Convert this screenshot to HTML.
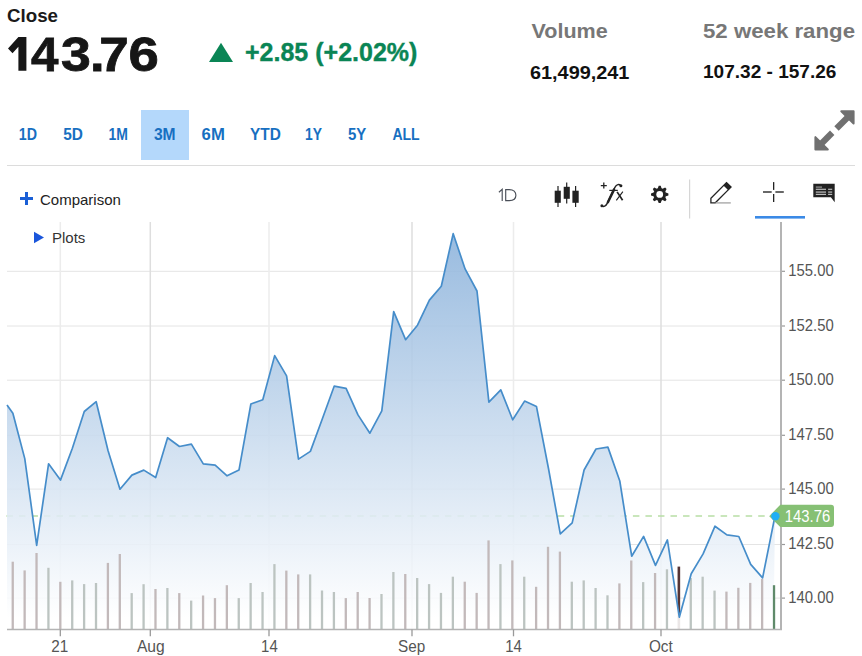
<!DOCTYPE html>
<html><head><meta charset="utf-8"><style>
html,body{margin:0;padding:0;background:#fff;width:862px;height:656px;overflow:hidden;position:relative;font-family:"Liberation Sans",sans-serif}
.t{position:absolute;white-space:nowrap;line-height:1}
.b{font-weight:bold}
.tab{position:absolute;top:127px;font-weight:bold;font-size:15.5px;color:#176fc1;line-height:1}
</style></head><body>
<svg width="862" height="656" style="position:absolute;left:0;top:0">
<g font-family="Liberation Sans" font-weight="bold">
<text x="7" y="22" font-size="18" fill="#1a1a1a" textLength="51" lengthAdjust="spacingAndGlyphs">Close</text>
<text x="245" y="61.4" font-size="26" fill="#0a8555" stroke="#0a8555" stroke-width="0.4" textLength="172.4" lengthAdjust="spacingAndGlyphs">+2.85 (+2.02%)</text>
<text x="531.5" y="37.8" font-size="21" fill="#777" textLength="76.2" lengthAdjust="spacingAndGlyphs">Volume</text>
<text x="530" y="78.9" font-size="18" fill="#111" textLength="99.4" lengthAdjust="spacingAndGlyphs">61,499,241</text>
<text x="703" y="37.5" font-size="21" fill="#777" textLength="152" lengthAdjust="spacingAndGlyphs">52 week range</text>
<text x="703" y="78.4" font-size="18" fill="#111" textLength="133.4" lengthAdjust="spacingAndGlyphs">107.32 - 157.26</text>
</g></svg>
<svg width="862" height="656" style="position:absolute;left:0;top:0">
<polygon points="18.4,37 26.4,37 26.4,70.7 18.4,70.7 18.4,46.8 12.5,53.3 8,48.4" fill="#161616"/>
<g font-family="Liberation Sans" font-weight="bold" font-size="49" fill="#161616" stroke="#161616" stroke-width="0.8">
<text x="31.1" y="70.6" textLength="27.45" lengthAdjust="spacingAndGlyphs">4</text>
<text x="61.0" y="70.6" textLength="29.86" lengthAdjust="spacingAndGlyphs">3</text>
<text x="89.9" y="70.6" textLength="14.65" lengthAdjust="spacingAndGlyphs">.</text>
<text x="99.2" y="70.6" textLength="29.51" lengthAdjust="spacingAndGlyphs">7</text>
<text x="128.5" y="70.6" textLength="30.32" lengthAdjust="spacingAndGlyphs">6</text>
</g></svg>
<svg width="862" height="656" style="position:absolute;left:0;top:0">
<polygon points="209,62 221,42.7 233,62" fill="#0a8555"/>
</svg>
<div style="position:absolute;left:141px;top:110px;width:48px;height:50px;background:#b4d8fb"></div>
<svg width="862" height="656" style="position:absolute;left:0;top:0">
<text x="18.8" y="140.3" font-family="Liberation Sans" font-weight="bold" font-size="16.5" fill="#176fc1" textLength="18.2" lengthAdjust="spacingAndGlyphs">1D</text>
<text x="63.3" y="140.3" font-family="Liberation Sans" font-weight="bold" font-size="16.5" fill="#176fc1" textLength="19.7" lengthAdjust="spacingAndGlyphs">5D</text>
<text x="108.4" y="140.3" font-family="Liberation Sans" font-weight="bold" font-size="16.5" fill="#176fc1" textLength="19.4" lengthAdjust="spacingAndGlyphs">1M</text>
<text x="153.9" y="140.3" font-family="Liberation Sans" font-weight="bold" font-size="16.5" fill="#176fc1" textLength="21.7" lengthAdjust="spacingAndGlyphs">3M</text>
<text x="201.6" y="140.3" font-family="Liberation Sans" font-weight="bold" font-size="16.5" fill="#176fc1" textLength="23.2" lengthAdjust="spacingAndGlyphs">6M</text>
<text x="250.0" y="140.3" font-family="Liberation Sans" font-weight="bold" font-size="16.5" fill="#176fc1" textLength="30.8" lengthAdjust="spacingAndGlyphs">YTD</text>
<text x="305.0" y="140.3" font-family="Liberation Sans" font-weight="bold" font-size="16.5" fill="#176fc1" textLength="17.0" lengthAdjust="spacingAndGlyphs">1Y</text>
<text x="348.0" y="140.3" font-family="Liberation Sans" font-weight="bold" font-size="16.5" fill="#176fc1" textLength="18.3" lengthAdjust="spacingAndGlyphs">5Y</text>
<text x="392.4" y="140.3" font-family="Liberation Sans" font-weight="bold" font-size="16.5" fill="#176fc1" textLength="27.3" lengthAdjust="spacingAndGlyphs">ALL</text>
</svg>
<div style="position:absolute;left:7px;top:165px;width:848px;height:1px;background:#dcdcdc"></div>
<svg width="862" height="656" style="position:absolute;left:0;top:0">
<!-- expand icon -->
<g fill="#707070" stroke="#707070" stroke-width="2" stroke-linejoin="round">
<polygon points="841.3,111.3 853.6,111.3 853.6,123.6"/>
<polygon points="815.4,137.1 815.4,149.5 827.8,149.5"/>
</g>
<line x1="849.5" y1="115.5" x2="836.5" y2="128.5" stroke="#707070" stroke-width="6.2"/>
<line x1="832.2" y1="132.8" x2="820" y2="145" stroke="#707070" stroke-width="6.2"/>
<!-- plus -->
<rect x="20" y="197" width="13" height="3" fill="#1a5fd6"/>
<rect x="25" y="192" width="3" height="13" fill="#1a5fd6"/>
<!-- candles -->
<g fill="#222">
<rect x="557.4" y="186" width="1.2" height="21"/><rect x="554.7" y="190.7" width="6.1" height="12.1"/>
<rect x="566.1" y="182.5" width="1.2" height="21"/><rect x="563.7" y="186.8" width="6.1" height="12"/>
<rect x="575" y="186" width="1.2" height="21"/><rect x="572.4" y="190.7" width="6.3" height="12.1"/>
</g>
<!-- gear -->
<circle cx="659.7" cy="194.4" r="6.3" fill="#222"/>
<polygon points="657.60,188.90 658.70,185.70 660.70,185.70 661.80,188.90" fill="#222"/>
<polygon points="662.10,189.03 665.14,187.54 666.56,188.96 665.07,192.00" fill="#222"/>
<polygon points="665.20,192.30 668.40,193.40 668.40,195.40 665.20,196.50" fill="#222"/>
<polygon points="665.07,196.80 666.56,199.84 665.14,201.26 662.10,199.77" fill="#222"/>
<polygon points="661.80,199.90 660.70,203.10 658.70,203.10 657.60,199.90" fill="#222"/>
<polygon points="657.30,199.77 654.26,201.26 652.84,199.84 654.33,196.80" fill="#222"/>
<polygon points="654.20,196.50 651.00,195.40 651.00,193.40 654.20,192.30" fill="#222"/>
<polygon points="654.33,192.00 652.84,188.96 654.26,187.54 657.30,189.03" fill="#222"/>
<circle cx="659.7" cy="194.4" r="3.4" fill="#fff"/>
<!-- separator -->
<rect x="689" y="179.5" width="1.2" height="39" fill="#d6d6d6"/>
<!-- pencil -->
<path d="M710.9,202.8 L710.9,198.3 L726.5,182.6 L731,187.1 L715.3,202.8 Z" fill="none" stroke="#222" stroke-width="1.3" stroke-linejoin="miter"/>
<path d="M723.4,185.4 L726.5,182.3 L731.4,187.1 L728.3,190.2 Z" fill="#222"/>
<rect x="715.5" y="202.2" width="15.3" height="1.4" fill="#aaa"/>
<!-- crosshair -->
<g fill="#222">
<rect x="763" y="191.2" width="8.7" height="1.6" fill="#444"/><rect x="775.4" y="191.2" width="8.4" height="1.6" fill="#444"/>
<rect x="773" y="182.1" width="1.3" height="7.8"/><rect x="773" y="194" width="1.3" height="8"/>
</g>
<rect x="755" y="216" width="50" height="2.6" fill="#3b8ae6"/>
<!-- comment icon -->
<path d="M813.3,183.7 L834.7,183.7 L834.7,202.2 L830.9,197.2 L813.3,197.2 Z" fill="#222"/>
<g fill="#bbb">
<rect x="815.8" y="186.4" width="6.2" height="1.4" fill="#888"/>
<rect x="815.8" y="188.7" width="10.2" height="1.2"/><rect x="828.1" y="188.7" width="4.1" height="1.2"/>
<rect x="815.8" y="191.3" width="10.2" height="1.6" fill="#999"/><rect x="828.1" y="191.3" width="4.1" height="1.6" fill="#999"/>
<rect x="815.8" y="193.8" width="10.2" height="1.2"/><rect x="828.1" y="193.8" width="4.1" height="1.2"/>
</g>
</svg>
<div class="t" style="left:40px;top:192px;font-size:15px;color:#222">Comparison</div>
<svg width="862" height="656" style="position:absolute;left:0;top:0">
<g fill="none" stroke="#4a4f58" stroke-width="1.15">
<path d="M502.2,201 L502.2,189.3 L498.9,192.2"/>
<path d="M505.7,189.6 L509.3,189.6 C513.6,189.6 515.9,192.2 515.9,195.3 C515.9,198.4 513.6,200.6 509.3,200.6 L505.7,200.6 Z"/>
</g></svg>
<svg width="862" height="656" style="position:absolute;left:0;top:0">
<g stroke="#222" fill="none" stroke-linecap="round">
<path d="M600.8,185.6 L606.8,185.6 M603.8,182.6 L603.8,188.6" stroke-width="1.3" stroke-linecap="butt"/>
<path d="M620.7,185.6 C619.2,183.9 616.6,184.1 614.9,187.4 L607.2,203.4 C605.9,206 603.6,207.4 601.8,205.8" stroke-width="1.4"/>
<path d="M614,189.6 L607.9,202.2" stroke-width="2.5"/>
<path d="M609.3,190.4 L617.8,190.4" stroke-width="1.2" stroke-linecap="butt"/>
<path d="M617.1,191.9 L622.6,200.2" stroke-width="1.7" stroke-linecap="butt"/>
<path d="M622.9,191.7 L616.3,200.3" stroke-width="1.1" stroke-linecap="butt"/>
</g>
<circle cx="620.9" cy="185.7" r="1.5" fill="#222"/>
<circle cx="601.9" cy="205.8" r="1.5" fill="#222"/>
</svg>
<svg width="862" height="656" style="position:absolute;left:0;top:0">
<defs><linearGradient id="fg" x1="0" y1="233" x2="0" y2="618" gradientUnits="userSpaceOnUse"><stop offset="0" stop-color="rgb(139,178,219)" stop-opacity="0.88"/><stop offset="1" stop-color="#ffffff" stop-opacity="0.88"/></linearGradient></defs>
<line x1="7" y1="271.3" x2="780" y2="271.3" stroke="#e4e4e4" stroke-width="1"/>
<line x1="7" y1="326.0" x2="780" y2="326.0" stroke="#e4e4e4" stroke-width="1"/>
<line x1="7" y1="380.2" x2="780" y2="380.2" stroke="#e4e4e4" stroke-width="1"/>
<line x1="7" y1="435.3" x2="780" y2="435.3" stroke="#e4e4e4" stroke-width="1"/>
<line x1="7" y1="489.1" x2="780" y2="489.1" stroke="#e4e4e4" stroke-width="1"/>
<line x1="7" y1="544.5" x2="780" y2="544.5" stroke="#e4e4e4" stroke-width="1"/>
<line x1="7" y1="598.1" x2="780" y2="598.1" stroke="#e4e4e4" stroke-width="1"/>
<line x1="60.3" y1="222" x2="60.3" y2="629.5" stroke="#ececec" stroke-width="1.5"/>
<line x1="150.3" y1="222" x2="150.3" y2="629.5" stroke="#dedede" stroke-width="1.5"/>
<line x1="269.0" y1="222" x2="269.0" y2="629.5" stroke="#ececec" stroke-width="1.5"/>
<line x1="412.0" y1="222" x2="412.0" y2="629.5" stroke="#dedede" stroke-width="1.5"/>
<line x1="513.5" y1="222" x2="513.5" y2="629.5" stroke="#ececec" stroke-width="1.5"/>
<line x1="661.0" y1="222" x2="661.0" y2="629.5" stroke="#dedede" stroke-width="1.5"/>
<line x1="6.4" y1="516" x2="770" y2="516" stroke="#b8dea5" stroke-width="1.7" stroke-dasharray="6.5,6.03"/>
<rect x="677.56" y="566.6" width="2.6" height="62.9" fill="#553434"/>
<path d="M7.00,405.00 L12.87,413.30 L24.77,458.60 L36.67,545.40 L48.57,463.80 L60.47,480.10 L72.38,448.30 L84.28,411.50 L96.18,401.70 L108.08,450.80 L119.98,489.20 L131.88,475.10 L143.78,470.10 L155.68,477.50 L167.58,437.70 L179.48,446.50 L191.38,444.10 L203.28,463.90 L215.18,465.20 L227.08,475.80 L238.98,470.10 L250.88,404.00 L262.78,399.80 L274.68,355.60 L286.58,375.90 L298.48,459.10 L310.38,451.40 L322.28,419.00 L334.18,386.20 L346.08,388.30 L357.98,414.90 L369.88,433.20 L381.79,410.90 L393.69,311.60 L405.59,339.70 L417.49,325.20 L429.39,300.10 L441.29,286.20 L453.19,233.70 L465.09,268.90 L476.99,291.00 L488.89,402.10 L500.79,389.90 L512.69,419.80 L524.59,401.10 L536.49,406.60 L548.39,468.00 L560.29,533.90 L572.19,522.90 L584.09,470.00 L595.99,449.00 L607.89,447.10 L619.79,481.00 L631.69,556.20 L643.59,536.40 L655.49,565.40 L667.39,539.90 L679.30,617.20 L691.20,573.80 L703.10,553.90 L715.00,526.20 L726.90,534.90 L738.80,536.50 L750.70,564.40 L762.60,577.90 L775.00,515.90 L773.50,629.5 L7,629.5 Z" fill="url(#fg)"/>
<rect x="11.59" y="561.7" width="2.3" height="67.8" fill="#c2b9ba"/>
<rect x="23.49" y="570.4" width="2.3" height="59.1" fill="#c2b9ba"/>
<rect x="35.38" y="553.0" width="2.3" height="76.5" fill="#c2b9ba"/>
<rect x="47.28" y="567.8" width="2.3" height="61.7" fill="#bcc4c1"/>
<rect x="59.17" y="581.8" width="2.3" height="47.7" fill="#c2b9ba"/>
<rect x="71.07" y="580.4" width="2.3" height="49.1" fill="#bcc4c1"/>
<rect x="82.96" y="584.1" width="2.3" height="45.4" fill="#bcc4c1"/>
<rect x="94.86" y="583.0" width="2.3" height="46.5" fill="#bcc4c1"/>
<rect x="106.75" y="562.9" width="2.3" height="66.6" fill="#c2b9ba"/>
<rect x="118.65" y="554.0" width="2.3" height="75.5" fill="#c2b9ba"/>
<rect x="130.54" y="593.1" width="2.3" height="36.4" fill="#bcc4c1"/>
<rect x="142.44" y="584.2" width="2.3" height="45.3" fill="#bcc4c1"/>
<rect x="154.33" y="589.0" width="2.3" height="40.5" fill="#c2b9ba"/>
<rect x="166.23" y="588.0" width="2.3" height="41.5" fill="#bcc4c1"/>
<rect x="178.12" y="593.1" width="2.3" height="36.4" fill="#c2b9ba"/>
<rect x="190.02" y="600.6" width="2.3" height="28.9" fill="#bcc4c1"/>
<rect x="201.91" y="595.5" width="2.3" height="34.0" fill="#c2b9ba"/>
<rect x="213.81" y="598.1" width="2.3" height="31.4" fill="#c2b9ba"/>
<rect x="225.70" y="585.2" width="2.3" height="44.3" fill="#c2b9ba"/>
<rect x="237.60" y="598.1" width="2.3" height="31.4" fill="#bcc4c1"/>
<rect x="249.49" y="583.0" width="2.3" height="46.5" fill="#bcc4c1"/>
<rect x="261.39" y="592.0" width="2.3" height="37.5" fill="#bcc4c1"/>
<rect x="273.28" y="564.1" width="2.3" height="65.4" fill="#bcc4c1"/>
<rect x="285.18" y="570.6" width="2.3" height="58.9" fill="#c2b9ba"/>
<rect x="297.07" y="574.4" width="2.3" height="55.1" fill="#c2b9ba"/>
<rect x="308.97" y="574.4" width="2.3" height="55.1" fill="#bcc4c1"/>
<rect x="320.86" y="590.5" width="2.3" height="39.0" fill="#bcc4c1"/>
<rect x="332.76" y="592.0" width="2.3" height="37.5" fill="#bcc4c1"/>
<rect x="344.65" y="598.1" width="2.3" height="31.4" fill="#c2b9ba"/>
<rect x="356.55" y="592.0" width="2.3" height="37.5" fill="#c2b9ba"/>
<rect x="368.44" y="598.0" width="2.3" height="31.5" fill="#c2b9ba"/>
<rect x="380.34" y="594.0" width="2.3" height="35.5" fill="#bcc4c1"/>
<rect x="392.23" y="572.0" width="2.3" height="57.5" fill="#bcc4c1"/>
<rect x="404.13" y="574.0" width="2.3" height="55.5" fill="#c2b9ba"/>
<rect x="416.02" y="578.0" width="2.3" height="51.5" fill="#bcc4c1"/>
<rect x="427.92" y="584.1" width="2.3" height="45.4" fill="#bcc4c1"/>
<rect x="439.81" y="592.9" width="2.3" height="36.6" fill="#bcc4c1"/>
<rect x="451.71" y="576.7" width="2.3" height="52.8" fill="#bcc4c1"/>
<rect x="463.60" y="581.7" width="2.3" height="47.8" fill="#c2b9ba"/>
<rect x="475.50" y="592.9" width="2.3" height="36.6" fill="#c2b9ba"/>
<rect x="487.39" y="540.4" width="2.3" height="89.1" fill="#c2b9ba"/>
<rect x="499.29" y="564.1" width="2.3" height="65.4" fill="#bcc4c1"/>
<rect x="511.18" y="560.4" width="2.3" height="69.1" fill="#c2b9ba"/>
<rect x="523.08" y="576.7" width="2.3" height="52.8" fill="#bcc4c1"/>
<rect x="534.97" y="586.8" width="2.3" height="42.7" fill="#c2b9ba"/>
<rect x="546.87" y="546.8" width="2.3" height="82.7" fill="#c2b9ba"/>
<rect x="558.76" y="551.6" width="2.3" height="77.9" fill="#c2b9ba"/>
<rect x="570.66" y="581.7" width="2.3" height="47.8" fill="#bcc4c1"/>
<rect x="582.55" y="580.4" width="2.3" height="49.1" fill="#bcc4c1"/>
<rect x="594.45" y="588.0" width="2.3" height="41.5" fill="#bcc4c1"/>
<rect x="606.34" y="595.3" width="2.3" height="34.2" fill="#bcc4c1"/>
<rect x="618.24" y="583.4" width="2.3" height="46.1" fill="#c2b9ba"/>
<rect x="630.13" y="560.5" width="2.3" height="69.0" fill="#c2b9ba"/>
<rect x="642.03" y="582.1" width="2.3" height="47.4" fill="#bcc4c1"/>
<rect x="653.92" y="573.0" width="2.3" height="56.5" fill="#c2b9ba"/>
<rect x="665.82" y="569.3" width="2.3" height="60.2" fill="#bcc4c1"/>
<rect x="689.61" y="578.0" width="2.3" height="51.5" fill="#bcc4c1"/>
<rect x="701.50" y="576.7" width="2.3" height="52.8" fill="#bcc4c1"/>
<rect x="713.40" y="590.6" width="2.3" height="38.9" fill="#bcc4c1"/>
<rect x="725.29" y="591.6" width="2.3" height="37.9" fill="#c2b9ba"/>
<rect x="737.19" y="587.8" width="2.3" height="41.7" fill="#c2b9ba"/>
<rect x="749.08" y="582.9" width="2.3" height="46.6" fill="#c2b9ba"/>
<rect x="760.98" y="578.9" width="2.3" height="50.6" fill="#c2b9ba"/>
<rect x="772.87" y="585.2" width="2.3" height="44.3" fill="#5f8a6a"/>
<path d="M7.00,405.00 L12.87,413.30 L24.77,458.60 L36.67,545.40 L48.57,463.80 L60.47,480.10 L72.38,448.30 L84.28,411.50 L96.18,401.70 L108.08,450.80 L119.98,489.20 L131.88,475.10 L143.78,470.10 L155.68,477.50 L167.58,437.70 L179.48,446.50 L191.38,444.10 L203.28,463.90 L215.18,465.20 L227.08,475.80 L238.98,470.10 L250.88,404.00 L262.78,399.80 L274.68,355.60 L286.58,375.90 L298.48,459.10 L310.38,451.40 L322.28,419.00 L334.18,386.20 L346.08,388.30 L357.98,414.90 L369.88,433.20 L381.79,410.90 L393.69,311.60 L405.59,339.70 L417.49,325.20 L429.39,300.10 L441.29,286.20 L453.19,233.70 L465.09,268.90 L476.99,291.00 L488.89,402.10 L500.79,389.90 L512.69,419.80 L524.59,401.10 L536.49,406.60 L548.39,468.00 L560.29,533.90 L572.19,522.90 L584.09,470.00 L595.99,449.00 L607.89,447.10 L619.79,481.00 L631.69,556.20 L643.59,536.40 L655.49,565.40 L667.39,539.90 L679.30,617.20 L691.20,573.80 L703.10,553.90 L715.00,526.20 L726.90,534.90 L738.80,536.50 L750.70,564.40 L762.60,577.90 L775.00,515.90" fill="none" stroke="#468dca" stroke-width="1.7" stroke-linejoin="round"/>
<line x1="781" y1="222" x2="781" y2="630.0" stroke="#b4b4b4" stroke-width="2"/>
<line x1="7" y1="629.5" x2="782" y2="629.5" stroke="#b4b4b4" stroke-width="1.5"/>
<line x1="782" y1="271.3" x2="785" y2="271.3" stroke="#999" stroke-width="1.2"/>
<line x1="782" y1="326.0" x2="785" y2="326.0" stroke="#999" stroke-width="1.2"/>
<line x1="782" y1="380.2" x2="785" y2="380.2" stroke="#999" stroke-width="1.2"/>
<line x1="782" y1="435.3" x2="785" y2="435.3" stroke="#999" stroke-width="1.2"/>
<line x1="782" y1="489.1" x2="785" y2="489.1" stroke="#999" stroke-width="1.2"/>
<line x1="782" y1="544.5" x2="785" y2="544.5" stroke="#999" stroke-width="1.2"/>
<line x1="782" y1="598.1" x2="785" y2="598.1" stroke="#999" stroke-width="1.2"/>
<line x1="60.3" y1="629.5" x2="60.3" y2="636.3" stroke="#999" stroke-width="1.3"/>
<line x1="150.3" y1="629.5" x2="150.3" y2="636.3" stroke="#999" stroke-width="1.3"/>
<line x1="269.0" y1="629.5" x2="269.0" y2="636.3" stroke="#999" stroke-width="1.3"/>
<line x1="412.0" y1="629.5" x2="412.0" y2="636.3" stroke="#999" stroke-width="1.3"/>
<line x1="513.5" y1="629.5" x2="513.5" y2="636.3" stroke="#999" stroke-width="1.3"/>
<line x1="661.0" y1="629.5" x2="661.0" y2="636.3" stroke="#999" stroke-width="1.3"/>
<text x="788.3" y="276.1" font-family="Liberation Sans" font-size="15.65" textLength="45.4" lengthAdjust="spacingAndGlyphs" fill="#555">155.00</text>
<text x="788.3" y="330.8" font-family="Liberation Sans" font-size="15.65" textLength="45.4" lengthAdjust="spacingAndGlyphs" fill="#555">152.50</text>
<text x="788.3" y="385.0" font-family="Liberation Sans" font-size="15.65" textLength="45.4" lengthAdjust="spacingAndGlyphs" fill="#555">150.00</text>
<text x="788.3" y="440.1" font-family="Liberation Sans" font-size="15.65" textLength="45.4" lengthAdjust="spacingAndGlyphs" fill="#555">147.50</text>
<text x="788.3" y="493.9" font-family="Liberation Sans" font-size="15.65" textLength="45.4" lengthAdjust="spacingAndGlyphs" fill="#555">145.00</text>
<text x="788.3" y="549.3" font-family="Liberation Sans" font-size="15.65" textLength="45.4" lengthAdjust="spacingAndGlyphs" fill="#555">142.50</text>
<text x="788.3" y="602.9" font-family="Liberation Sans" font-size="15.65" textLength="45.4" lengthAdjust="spacingAndGlyphs" fill="#555">140.00</text>
<text x="51.2" y="651.8" font-family="Liberation Sans" font-size="15.7" textLength="17.0" lengthAdjust="spacingAndGlyphs" fill="#555">21</text>
<text x="136.9" y="651.8" font-family="Liberation Sans" font-size="15.7" textLength="27.8" lengthAdjust="spacingAndGlyphs" fill="#555">Aug</text>
<text x="261.1" y="651.8" font-family="Liberation Sans" font-size="15.7" textLength="16.6" lengthAdjust="spacingAndGlyphs" fill="#555">14</text>
<text x="398.1" y="651.8" font-family="Liberation Sans" font-size="15.7" textLength="27.2" lengthAdjust="spacingAndGlyphs" fill="#555">Sep</text>
<text x="505.2" y="651.8" font-family="Liberation Sans" font-size="15.7" textLength="16.6" lengthAdjust="spacingAndGlyphs" fill="#555">14</text>
<text x="648.9" y="651.8" font-family="Liberation Sans" font-size="15.7" textLength="23.8" lengthAdjust="spacingAndGlyphs" fill="#555">Oct</text>
<path d="M769.2,516.2 L780.3,504.7 L831,504.7 Q834,504.7 834,507.7 L834,524 Q834,527 831,527 L780.3,527 Z" fill="#86c074"/>
<text x="784.8" y="521.8" font-family="Liberation Sans" font-size="15.7" textLength="45.4" lengthAdjust="spacingAndGlyphs" fill="#fff">143.76</text>
<circle cx="775.4" cy="516.2" r="4.2" fill="#1eaef5"/>
</svg>
<svg width="862" height="656" style="position:absolute;left:0;top:0">
<polygon points="34,231.7 44,237.5 34,243.3" fill="#1a56db"/>
</svg>
<div class="t" style="left:52px;top:230px;font-size:15px;color:#333">Plots</div>
</body></html>
